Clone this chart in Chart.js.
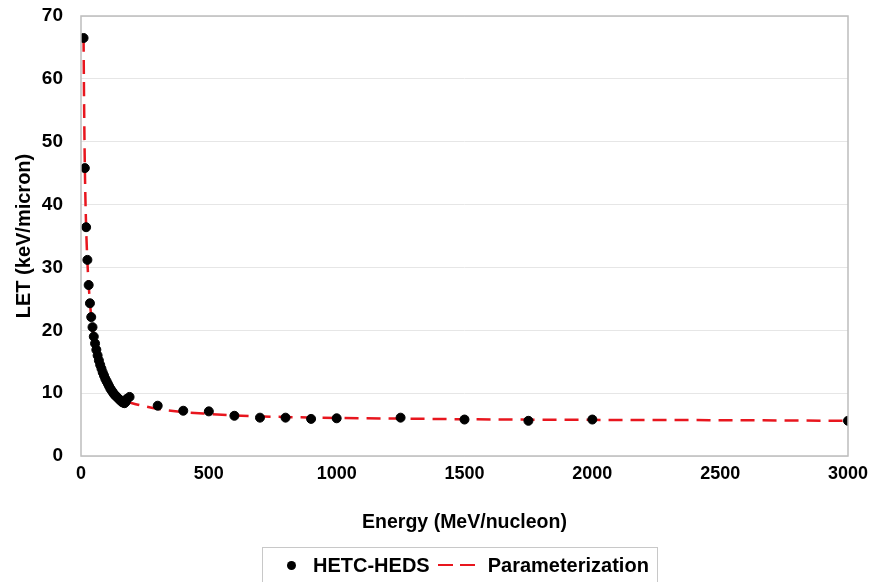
<!DOCTYPE html>
<html>
<head>
<meta charset="utf-8">
<script src="https://cdn.jsdelivr.net/npm/chart.js@4/dist/chart.umd.min.js"></script>
<style>
    html, body { margin: 0; padding: 0; background: #fff; }
    #wrap { position: relative; width: 875px; height: 582px; }
    #legend {
        position: absolute; left: 262px; top: 547px; width: 396px; height: 36px;
        border: 1px solid #c8c8c8; box-sizing: border-box;
        font: bold 20px "Liberation Sans", Arial, sans-serif; color: #000;
        display: flex; align-items: center;
    }
    #legend .dot { width: 9px; height: 9px; border-radius: 50%; background: #000; margin-left: 24px; margin-right: 17px; }
    #legend .dash { display: inline-block; width: 15px; height: 2.5px; background: #e8161e; margin-right: 7px; }
</style>
</head>
<body>
<div id="wrap">
    <canvas id="chart" width="875" height="582"></canvas>
    <div id="legend">
        <span class="dot"></span><span>HETC-HEDS</span>
        <span style="margin-left:8px"></span><span class="dash"></span><span class="dash"></span>
        <span style="margin-left:6px">Parameterization</span>
    </div>
</div>
<script>
// HETC-HEDS points (energy in MeV/nucleon, LET in keV/micron)
const hetcEnergy = [10, 15, 20, 25, 30, 35, 40, 45, 50, 55, 60, 65, 70, 75, 80, 85, 90, 95, 100,
    105, 110, 115, 120, 125, 130, 135, 140, 145, 150, 155, 160, 165, 170, 175, 180, 190,
    300, 400, 500, 600, 700, 800, 900, 1000, 1250, 1500, 1750, 2000, 3000];
const hetcLet = [66.5, 45.8, 36.4, 31.2, 27.2, 24.3, 22.1, 20.5, 19.0, 17.9, 16.9, 16.0, 15.2, 14.5, 13.9, 13.3, 12.8, 12.3, 11.9,
    11.5, 11.1, 10.7, 10.4, 10.1, 9.8, 9.6, 9.4, 9.2, 9.0, 8.8, 8.6, 8.5, 8.4, 8.6, 9.1, 9.4,
    8.0, 7.2, 7.1, 6.4, 6.1, 6.1, 5.9, 6.0, 6.1, 5.8, 5.6, 5.8, 5.6];

// Parameterization curve
const fitEnergy = [10, 12, 15, 20, 25, 30, 40, 50, 60, 80, 100, 125, 150, 175, 200, 250, 300,
    400, 500, 600, 800, 1000, 1250, 1500, 2000, 2500, 3000];
const fitLet = [66.5, 56.5, 46.0, 36.5, 31.0, 27.2, 22.2, 19.1, 16.8, 13.7, 11.8, 10.3, 9.3, 8.7, 8.4, 7.9, 7.5,
    7.0, 6.7, 6.45, 6.2, 6.05, 5.95, 5.85, 5.75, 5.7, 5.6];

const xTicks = [0, 500, 1000, 1500, 2000, 2500, 3000];
const yTicks = [0, 10, 20, 30, 40, 50, 60, 70];

const FONT = '"Liberation Sans", Arial, sans-serif';

const plotBorder = {
    id: 'plotBorder',
    afterDraw(chart) {
        const a = chart.chartArea;
        const ctx = chart.ctx;
        ctx.save();
        ctx.strokeStyle = '#bdbdbd';
        ctx.lineWidth = 1.5;
        ctx.strokeRect(a.left, a.top, a.right - a.left, a.bottom - a.top);
        ctx.restore();
    }
};

new Chart(document.getElementById('chart'), {
    type: 'scatter',
    data: {
        datasets: [
            {
                label: 'HETC-HEDS',
                data: hetcEnergy.map((e, i) => ({ x: e, y: hetcLet[i] })),
                backgroundColor: '#000',
                borderColor: '#000',
                pointRadius: 4.5,
                order: 1
            },
            {
                label: 'Parameterization',
                type: 'line',
                data: fitEnergy.map((e, i) => ({ x: e, y: fitLet[i] })),
                borderColor: '#e8161e',
                borderWidth: 2.5,
                borderDash: [14, 8],
                pointRadius: 0,
                cubicInterpolationMode: 'monotone',
                fill: false,
                order: 2
            }
        ]
    },
    options: {
        responsive: false,
        animation: false,
        layout: { padding: { top: 16, right: 27, left: 0, bottom: 0 } },
        plugins: { legend: { display: false }, tooltip: { enabled: false } },
        scales: {
            x: {
                type: 'linear', min: 0, max: 3000,
                afterBuildTicks: s => { s.ticks = xTicks.map(v => ({ value: v })); },
                afterFit: s => { s.height = 126; s.paddingLeft = 0; s.paddingRight = 0; },
                grid: { display: false, drawTicks: false },
                border: { display: false },
                ticks: { padding: 7, color: '#000', callback: v => String(v),
                    font: { family: FONT, size: 18, weight: 'bold' } },
                title: { display: true, text: 'Energy (MeV/nucleon)', color: '#000',
                    font: { family: FONT, size: 19.5, weight: 'bold' }, padding: { top: 0, bottom: 48 } }
            },
            y: {
                min: 0, max: 70,
                afterBuildTicks: s => { s.ticks = yTicks.map(v => ({ value: v })); },
                afterFit: s => { s.width = 81; s.paddingTop = 0; s.paddingBottom = 0; },
                grid: { color: '#e6e6e6', lineWidth: 1, drawTicks: false },
                border: { display: false },
                ticks: { padding: 18, color: '#000', font: { family: FONT, size: 19, weight: 'bold' } },
                title: { display: true, text: 'LET (keV/micron)', color: '#000',
                    font: { family: FONT, size: 20, weight: 'bold' }, padding: { top: 12 } }
            }
        }
    },
    plugins: [plotBorder]
});
</script>
</body>
</html>
